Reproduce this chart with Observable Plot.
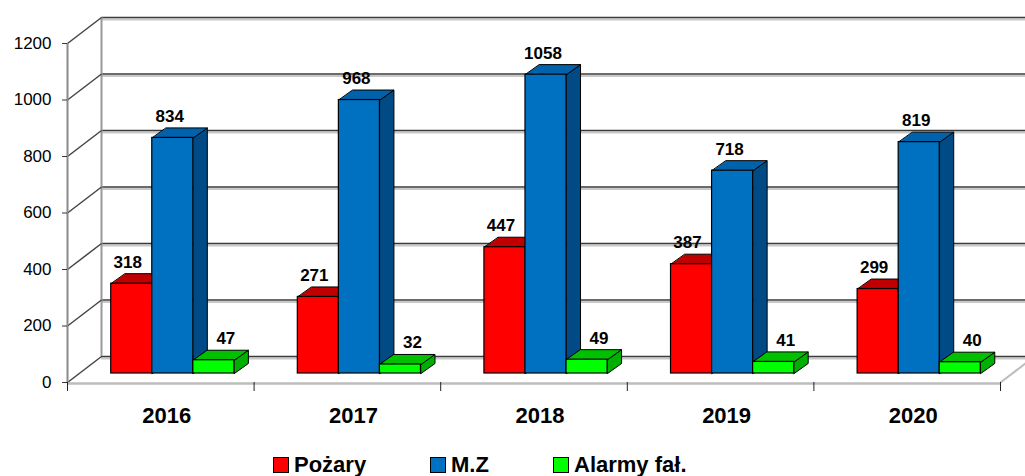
<!DOCTYPE html>
<html>
<head>
<meta charset="utf-8">
<script src="https://cdn.jsdelivr.net/npm/d3@7"></script>
<script src="https://cdn.jsdelivr.net/npm/@observablehq/plot@0.6"></script>
<style>
  html, body { margin: 0; padding: 0; background: #fff; overflow: hidden; }
  #wrap { position: relative; width: 1025px; height: 476px; font-family: "Liberation Sans", Arial, sans-serif; }
  .leg { position: absolute; top: 452px; display: flex; align-items: center; font-weight: bold; font-size: 22px; color: #000; }
  .sw { width: 14px; height: 14px; border: 1.5px solid #000; margin-right: 5px; }
</style>
</head>
<body>
<div id="wrap"></div>
<script>
// ---- data ----
const years = ["2016", "2017", "2018", "2019", "2020"];
const pozary = [318, 271, 447, 387, 299];
const mz = [834, 968, 1058, 718, 819];
const alarmy = [47, 32, 49, 41, 40];
const yTicks = [0, 200, 400, 600, 800, 1000, 1200];
const seriesNames = ["Pożary", "M.Z", "Alarmy fał."];

// ---- layout ----
const W = 1025, H = 430, ML = 67, MR = 25, MT = 43, MB = 48;
const kx = 5 / (W - ML - MR);          // data units per px (x)
const ky = 1200 / (H - MT - MB);       // data units per px (y)
const wallDX = 34, wallDY = -26;       // depth of the whole box, px
const barDX = 14, barDY = -10;         // depth of each bar, px
const barOffX = 12, barOffY = -9;      // bar plane offset, px
const barW = 0.22;                     // bar width in band units

const series = [
  {name: seriesNames[0], values: pozary, off: 0.17, front: "#ff0000", top: "#c00000", side: "#a00000", ldx: 8},
  {name: seriesNames[1], values: mz,     off: 0.39, front: "#0070c0", top: "#0062ab", side: "#004a85", ldx: 9},
  {name: seriesNames[2], values: alarmy, off: 0.61, front: "#00ff00", top: "#00c000", side: "#00b000", ldx: 24}
];

function topPolys(s) {
  return s.values.flatMap((v, i) => {
    const a = i + s.off, b = a + barW, ddx = barDX * kx, ddy = -barDY * ky;
    return [[a, v], [b, v], [b + ddx, v + ddy], [a + ddx, v + ddy]].map(([x, y]) => ({id: i, x, y}));
  });
}
function sidePolys(s) {
  return s.values.flatMap((v, i) => {
    const b = i + s.off + barW, ddx = barDX * kx, ddy = -barDY * ky;
    return [[b, 0], [b + ddx, ddy], [b + ddx, v + ddy], [b, v]].map(([x, y]) => ({id: i, x, y}));
  });
}

const idx = years.map((_, i) => i);
const marks = [];

// back wall gridlines (shadow + line)
marks.push(Plot.ruleY(yTicks, {x1: 0, x2: 5 + 0.2, dx: wallDX, dy: wallDY + 2, stroke: "#c8c8c8", strokeWidth: 2}));
marks.push(Plot.ruleY(yTicks, {x1: 0, x2: 5 + 0.2, dx: wallDX, dy: wallDY, stroke: "#3a3a3a", strokeWidth: 1.5}));
// back wall left edge
marks.push(Plot.ruleX([0], {y1: 0, y2: 1200, dx: wallDX, dy: wallDY, stroke: "#999", strokeWidth: 2}));
// side wall diagonals
marks.push(Plot.link(yTicks, {x1: 0, y1: d => d, x2: wallDX * kx, y2: d => d - wallDY * ky, stroke: "#444", strokeWidth: 1.5}));
// floor
marks.push(Plot.ruleY([0], {x1: 0, x2: 5, dy: 1, stroke: "#bdbdbd", strokeWidth: 2.5}));
marks.push(Plot.link([0], {x1: 5, y1: 0, x2: 5 + wallDX * kx, y2: -wallDY * ky, stroke: "#bdbdbd", strokeWidth: 2}));
// front axis line
marks.push(Plot.ruleX([0], {y1: 0, y2: 1200, stroke: "#8a8a8a", strokeWidth: 2}));
// category ticks
marks.push(Plot.ruleX([0, 1, 2, 3, 4, 5], {y1: 0, y2: -9 * ky, stroke: "#222", strokeWidth: 1}));
// y axis
marks.push(Plot.axisY(yTicks, {tickSize: 5, tickPadding: 11, fontSize: 17, stroke: "#333", label: null, tickFormat: d => String(d)}));

// bars: sides, tops, fronts
for (const s of series) {
  marks.push(Plot.line(sidePolys(s), {x: "x", y: "y", z: "id", curve: "linear-closed", fill: s.side, stroke: "#000", strokeWidth: 1, dx: barOffX, dy: barOffY}));
}
for (const s of series) {
  marks.push(Plot.line(topPolys(s), {x: "x", y: "y", z: "id", curve: "linear-closed", fill: s.top, stroke: "#000", strokeWidth: 1, dx: barOffX, dy: barOffY}));
}
for (const s of series) {
  marks.push(Plot.rect(idx, {x1: i => i + s.off, x2: i => i + s.off + barW, y1: 0, y2: i => s.values[i], fill: s.front, stroke: "#000", strokeWidth: 1.2, dx: barOffX, dy: barOffY}));
}
// value labels
for (const s of series) {
  marks.push(Plot.text(idx, {x: i => i + s.off + barW / 2, y: i => s.values[i], text: i => String(s.values[i]), dx: s.ldx, dy: -25, lineAnchor: "bottom", fontSize: 17, fontWeight: "bold", fill: "#000"}));
}
// year labels
marks.push(Plot.text(idx, {x: i => i + 0.5, y: 0, text: i => years[i], dx: 6, dy: 33, fontSize: 22, fontWeight: "bold", fill: "#000"}));

const chart = Plot.plot({
  width: W, height: H,
  marginLeft: ML, marginRight: MR, marginTop: MT, marginBottom: MB,
  x: {domain: [0, 5], axis: null},
  y: {domain: [0, 1200]},
  style: {fontFamily: "'Liberation Sans', Arial, sans-serif", background: "#fff", overflow: "visible"},
  marks
});
const wrap = document.getElementById("wrap");
wrap.appendChild(chart);

// legend
const legPos = [273, 430, 553];
series.forEach((s, k) => {
  const d = document.createElement("div");
  d.className = "leg";
  d.style.left = legPos[k] + "px";
  const sw = document.createElement("div");
  sw.className = "sw";
  sw.style.background = s.front;
  const t = document.createElement("span");
  t.textContent = s.name;
  d.appendChild(sw); d.appendChild(t);
  wrap.appendChild(d);
});
</script>
</body>
</html>
